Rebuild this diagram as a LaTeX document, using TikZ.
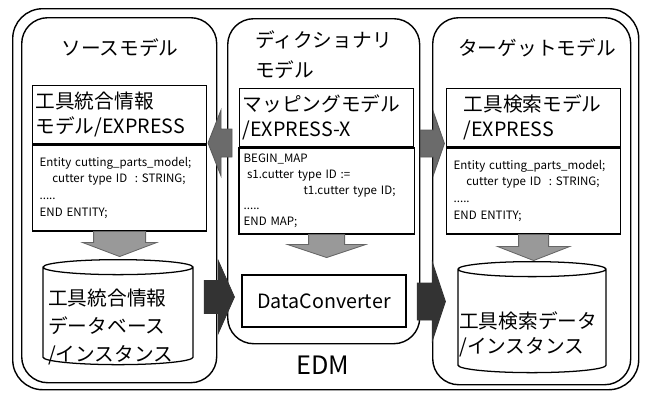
\documentclass[tikz,border=0pt]{standalone}
\usepackage{fontspec}
\setmainfont{Noto Sans CJK JP}
\usetikzlibrary{calc,shapes.geometric}
\tikzstyle{panneau} = [rectangle, rounded corners=0.65cm, draw=black, line width=1pt, anchor=north west]
\tikzstyle{titre} = [font=\fontsize{14}{21.3}\selectfont, inner sep=0pt]
\tikzstyle{entete} = [rectangle, draw=black, line width=0.9pt, minimum height=1.45cm, minimum width=4.35cm, text width=4.2cm, inner sep=0.07cm, align=left, anchor=north west, font=\fontsize{14}{18}\selectfont]
\tikzstyle{corps} = [rectangle, draw=black, line width=0.9pt, minimum height=2.15cm, minimum width=4.35cm, text width=4.0cm, align=left, anchor=north, font=\fontsize{8.2}{12}\selectfont]
\tikzstyle{cylindre} = [cylinder, shape border rotate=90, draw=black, line width=0.9pt, aspect=1.6]
\tikzstyle{texte} = [inner sep=0pt, align=left, anchor=west, font=\fontsize{14}{20}\selectfont]
\tikzstyle{grise} = [fill=gray!80, draw=black!60, line width=0.6pt]
\tikzstyle{moyen} = [fill=black!58, draw=black!65, line width=0.6pt]
\tikzstyle{sombre} = [fill=black!80, draw=black!80, line width=0.6pt]

% fleche pleine vers le bas : depart, demi-largeur corps, demi-largeur pointe, longueur corps, longueur pointe
\newcommand{\flechebas}[5]{\draw[grise] (#1) ++(-#2,0) -- ++(0,-#4) -- ++(#2-#3,0) -- ++(#3,-#5) -- ++(#3,#5) -- ++(#2-#3,0) -- ++(0,#4) -- cycle;}
% fleche pleine vers la droite
\newcommand{\flechedroite}[6]{\draw[#1] (#2) ++(0,#3) -- ++(#5,0) -- ++(0,#4-#3) -- ++(#6,-#4) -- ++(-#6,-#4) -- ++(0,#4-#3) -- ++(-#5,0) -- cycle;}

\begin{document}
\begin{tikzpicture}
                \useasboundingbox (0,0) rectangle (16.15,-9.8);

                \node [panneau, rounded corners=0.75cm, minimum width=15.65cm, minimum height=9.525cm] (edm) at (0.3,-0.2) {};
                \node [panneau, minimum width=4.875cm, minimum height=9.125cm] (source) at (0.525,-0.425) {};
                \node [panneau, minimum width=4.8cm, minimum height=8.125cm] (dico) at (5.675,-0.45) {};
                \node [panneau, minimum width=4.95cm, minimum height=9.175cm] (cible) at (10.8,-0.425) {};

                \node [titre] (titreG) at (3.0,-1.2) {ソースモデル};
                \node [titre, anchor=west, align=left] (titreM) at (6.375,-1.375) {ディクショナリ\\モデル};
                \node [titre] (titreD) at (13.425,-1.2) {ターゲットモデル};

                % modele source
                \node [entete] (enteteG) at (0.8,-2.125) {工具統合情報\\モデル/EXPRESS};
                \node [corps] (corpsG) at (enteteG.south) {Entity cutting\_parts\_model;\\
                    \hspace*{1.1em}cutter type ID\ \ : STRING;\\
                    .....\\
                    END ENTITY;};

                % modele de correspondance
                \node [entete] (enteteM) at (5.975,-2.2) {マッピングモデル\\/EXPRESS-X};
                \node [corps, text width=4.15cm, font=\fontsize{8.2}{11.2}\selectfont] (corpsM) at (enteteM.south) {BEGIN\_MAP\\
                    \hspace*{0.3em}s1.cutter type ID :=\\
                    \hspace*{5.2em}t1.cutter type ID;\\
                    .....\\
                    END MAP;};

                % modele cible
                \node [entete, text width=3.5cm] (enteteD) at (11.15,-2.2) {工具検索モデル\\/EXPRESS};
                \node [corps] (corpsD) at (enteteD.south) {Entity cutting\_parts\_model;\\
                    \hspace*{1.1em}cutter type ID\ \ : STRING;\\
                    .....\\
                    END ENTITY;};

                \flechebas{corpsG.south}{0.65}{0.925}{0.275}{0.35}
                \flechebas{corpsM.south}{0.45}{0.975}{0.25}{0.325}
                \flechebas{corpsD.south}{0.375}{0.9}{0.3}{0.35}

                \node [cylindre, minimum width=3.75cm, minimum height=2.625cm] (baseG) at (2.95,-7.9375) {};
                \node [texte] (texteG) at (1.2,-8.175) {工具統合情報\\データベース\\/インスタンス};

                \node [rectangle, draw=black, line width=0.9pt, minimum width=4.1cm, minimum height=1.3cm, font=\fontsize{14}{17}\selectfont] (convert) at (8.1,-7.525) {DataConverter};

                \node [cylindre, minimum width=3.7cm, minimum height=2.775cm] (baseD) at (13.3,-8.0625) {};
                \node [texte, font=\fontsize{14}{17.5}\selectfont] (texteD) at (11.475,-8.3625) {工具検索データ\\/インスタンス};

                \node [font=\fontsize{18}{20}\selectfont] (nomEdm) at (8.075,-9.125) {EDM};

                % echanges entre les modeles
                \draw[moyen] (dico.west |- 0,-3.575) ++(0.125,0.35) -- ++(-0.275,0) -- ++(0,0.475) -- ++(-0.325,-0.825) -- ++(0.325,-0.825) -- ++(0,0.475) -- ++(0.275,0) -- cycle;
                \flechedroite{moyen}{dico.east |- 0,-3.5875}{0.3375}{0.7875}{0.325}{0.275}
                \flechedroite{sombre}{$(source.east |- 0,-7.425)+(-0.325,0)$}{0.4125}{0.9}{0.35}{0.4}
                \flechedroite{sombre}{$(dico.east |- 0,-7.5375)+(-0.075,0)$}{0.4625}{0.975}{0.375}{0.325}
            \end{tikzpicture}
\end{document}
